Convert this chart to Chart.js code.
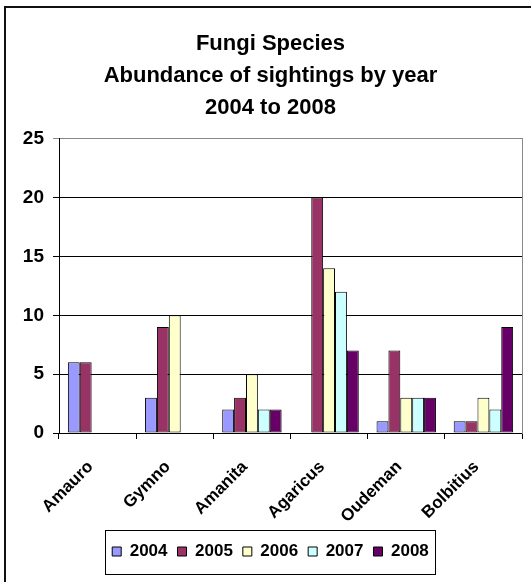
<!DOCTYPE html>
<html>
<head>
<meta charset="utf-8">
<script src="https://cdn.jsdelivr.net/npm/chart.js@4/dist/chart.umd.min.js"></script>
<style>
  html, body { margin: 0; padding: 0; background: #fff; }
  #wrap { width: 531px; height: 582px; position: relative; }
</style>
</head>
<body>
<div id="wrap"><canvas id="fungi-chart"></canvas></div>
<script>
// Dados (null = sem barra)
const species = ['Amauro', 'Gymno', 'Amanita', 'Agaricus', 'Oudeman', 'Bolbitius'];
const years = ['2004', '2005', '2006', '2007', '2008'];
const y2004 = [6, 3, 2, null, 1, 1];
const y2005 = [6, 9, 3, 20, 7, 1];
const y2006 = [null, 10, 5, 14, 3, 3];
const y2007 = [null, null, 2, 12, 3, 2];
const y2008 = [null, null, 2, 7, 3, 9];
const yearColors = ['#9999FF', '#993366', '#FFFFCC', '#CCFFFF', '#660066'];
const titleLines = ['Fungi Species', 'Abundance of sightings by year', '2004 to 2008'];

const FONT = "'Liberation Sans', Arial, sans-serif";

// moldura externa + caixa da legenda
const framePlugin = {
    id: 'frame',
    beforeDraw(chart) {
        const c = chart.ctx;
        c.save();
        c.fillStyle = '#fff';
        c.fillRect(0, 0, chart.width, chart.height);
        c.restore();
    },
    afterDraw(chart) {
        const c = chart.ctx;
        c.save();
        c.strokeStyle = '#111';
        c.lineWidth = 2;
        c.beginPath();
        c.moveTo(5, chart.height);
        c.lineTo(5, 7);
        c.lineTo(chart.width, 7);
        c.stroke();

        const boxes = chart.legend.legendHitBoxes;
        if (boxes && boxes.length) {
            const first = boxes[0], last = boxes[boxes.length - 1];
            const cy = first.top + first.height / 2;
            const left = Math.round(first.left - 7) + 0.5;
            const right = Math.round(last.left + last.width + 6) + 0.5;
            c.strokeStyle = '#000';
            c.lineWidth = 1;
            c.strokeRect(left, Math.round(cy - 22) + 0.5, right - left, 44);
        }
        c.restore();
    }
};

const datasets = [y2004, y2005, y2006, y2007, y2008].map((vals, i) => ({
    label: years[i],
    data: vals,
    backgroundColor: yearColors[i],
    borderColor: '#000',
    borderWidth: 1,
    borderSkipped: false,
    categoryPercentage: 0.77,
    barPercentage: 1.0
}));

new Chart(document.getElementById('fungi-chart'), {
    type: 'bar',
    data: { labels: species, datasets: datasets },
    plugins: [framePlugin],
    options: {
        responsive: true,
        maintainAspectRatio: false,
        animation: false,
        layout: { padding: { left: 10, right: 0, top: 8, bottom: 12 } },
        scales: {
            x: {
                grid: { drawOnChartArea: false, color: '#000', tickLength: 6 },
                border: { color: '#000' },
                ticks: {
                    color: '#000',
                    font: { family: FONT, size: 17, weight: 'bold' },
                    minRotation: 45,
                    maxRotation: 45,
                    labelOffset: -7,
                    padding: 18
                },
                afterFit: (s) => { s.height = 100; }
            },
            y: {
                min: 0,
                max: 25,
                ticks: {
                    stepSize: 5,
                    color: '#000',
                    font: { family: FONT, size: 19, weight: 'bold' },
                    padding: 9
                },
                grid: {
                    color: (ctx) => (ctx.tick && ctx.tick.value === 25 ? '#888' : '#000'),
                    tickLength: 6
                },
                border: { color: '#000' },
                afterFit: (s) => { s.width = 49; }
            },
            yR: {
                position: 'right',
                display: true,
                grid: { display: false },
                ticks: { display: false },
                border: { display: true, color: '#888' },
                afterFit: (s) => { s.width = 9; }
            }
        },
        plugins: {
            title: {
                display: true,
                text: titleLines,
                color: '#000',
                font: { family: FONT, size: 22, weight: 'bold', lineHeight: 1.45 },
                padding: { top: 20, bottom: 15 }
            },
            legend: {
                position: 'bottom',
                labels: {
                    color: '#000',
                    font: { family: FONT, size: 17, weight: 'bold' },
                    boxWidth: 9,
                    boxHeight: 9,
                    padding: 10
                }
            },
            tooltip: { enabled: false }
        }
    }
});
</script>
</body>
</html>
